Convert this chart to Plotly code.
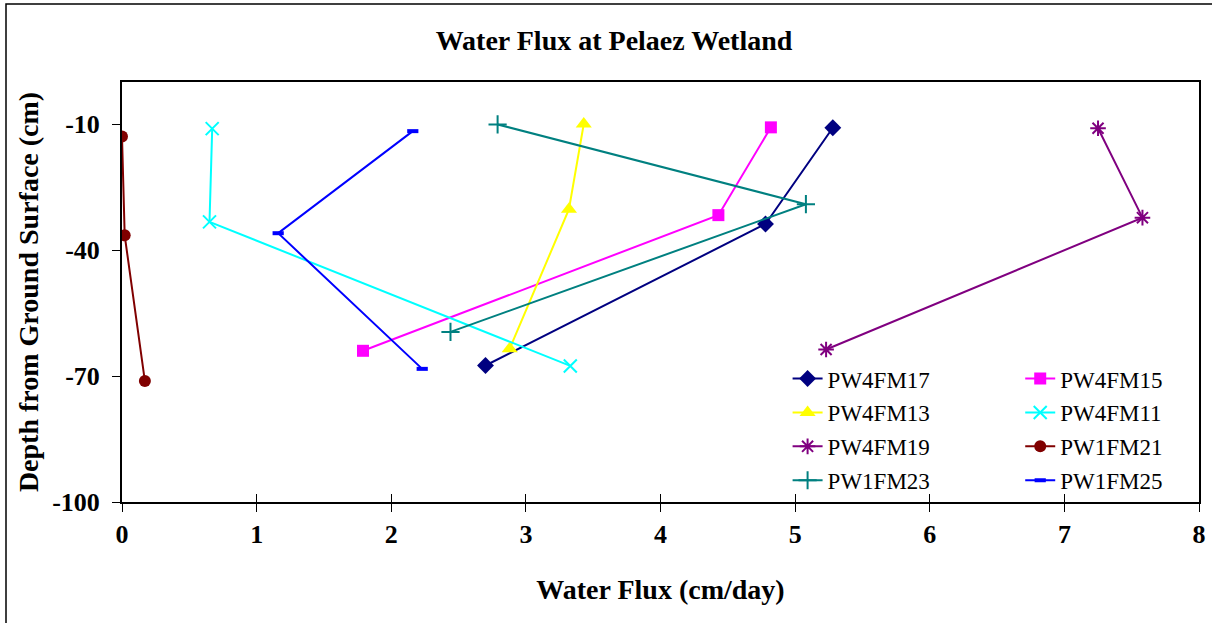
import plotly.graph_objects as go

# Data (x = water flux cm/day, y = depth cm)
names = ["PW4FM17", "PW4FM15", "PW4FM13", "PW4FM11",
         "PW4FM19", "PW1FM21", "PW1FM23", "PW1FM25"]
flux_PW4FM17 = [5.28, 4.78, 2.70]
depth_PW4FM17 = [-10.9, -33.8, -67.5]
flux_PW4FM15 = [4.82, 4.43, 1.79]
depth_PW4FM15 = [-10.8, -31.7, -64.0]
flux_PW4FM13 = [3.43, 3.32, 2.88]
depth_PW4FM13 = [-10.0, -30.3, -63.5]
flux_PW4FM11 = [0.67, 0.65, 3.33]
depth_PW4FM11 = [-11.1, -33.3, -67.6]
flux_PW4FM19 = [7.25, 7.58, 5.23]
depth_PW4FM19 = [-11.0, -32.3, -63.7]
flux_PW1FM21 = [0.0, 0.02, 0.17]
depth_PW1FM21 = [-13.0, -36.5, -71.2]
flux_PW1FM23 = [2.79, 5.08, 2.44]
depth_PW1FM23 = [-10.1, -29.1, -59.5]
flux_PW1FM25 = [2.16, 1.16, 2.23]
depth_PW1FM25 = [-11.7, -36.0, -68.3]

x_ticks = [0, 1, 2, 3, 4, 5, 6, 7, 8]
y_ticks = [-100, -70, -40, -10]

series = [
    (flux_PW4FM17, depth_PW4FM17),
    (flux_PW4FM15, depth_PW4FM15),
    (flux_PW4FM13, depth_PW4FM13),
    (flux_PW4FM11, depth_PW4FM11),
    (flux_PW4FM19, depth_PW4FM19),
    (flux_PW1FM21, depth_PW1FM21),
    (flux_PW1FM23, depth_PW1FM23),
    (flux_PW1FM25, depth_PW1FM25),
]
colors = ["#000080", "#FF00FF", "#FFFF00", "#00FFFF",
          "#800080", "#800000", "#008080", "#0000FF"]
symbols = ["diamond", "square", "triangle-up", "x-thin-open",
           "asterisk-open", "circle", "cross-thin-open", "line-ew-open"]
sizes = [13, 12, 14, 13, 13, 12, 13, 8]
mlw = [0, 0, 0, 2, 2, 0, 2, 4]
legends = ["legend", "legend2", "legend", "legend2",
           "legend", "legend2", "legend", "legend2"]

FONT = "Liberation Serif, Times New Roman, serif"

fig = go.Figure()
for i, (name, (xs, ys)) in enumerate(zip(names, series)):
    fig.add_trace(go.Scatter(
        x=xs, y=ys, name=name, mode="lines+markers",
        line=dict(color=colors[i], width=2),
        marker=dict(symbol=symbols[i], size=sizes[i], color=colors[i],
                    line=dict(color=colors[i], width=mlw[i])),
        legend=legends[i], legendgroup=name,
    ))

# empty trace so the companion axis (inner tick halves) is rendered
fig.add_trace(go.Scatter(x=[], y=[], xaxis="x2", yaxis="y",
                         showlegend=False, hoverinfo="skip"))

legend_common = dict(
    font=dict(family=FONT, size=23, color="black"),
    bgcolor="rgba(255,255,255,0)", borderwidth=0,
    xanchor="left", yanchor="top", tracegroupgap=1,
    orientation="v",
)

fig.update_layout(
    width=1212, height=623,
    margin=dict(l=122, r=13, t=82, b=121, autoexpand=False),
    paper_bgcolor="white", plot_bgcolor="white",
    font=dict(family=FONT, color="black"),
    title=dict(text="<b>Water Flux at Pelaez Wetland</b>",
               x=0.5066, xref="container", xanchor="center",
               y=1 - 40 / 623, yref="container", yanchor="middle",
               font=dict(family=FONT, size=28, color="black")),
    xaxis=dict(range=[0, 8], tickvals=x_ticks,
               ticktext=[f"<b>{v}</b>" for v in x_ticks],
               showgrid=False, zeroline=False, automargin=False,
               showline=True, linecolor="black", linewidth=2, mirror=True,
               ticks="outside", ticklen=8, tickcolor="black", tickwidth=1,
               ticklabelstandoff=0,
               tickfont=dict(family=FONT, size=26, color="black"),
               title=dict(text="<b>Water Flux (cm/day)</b>", standoff=31,
                          font=dict(family=FONT, size=28, color="black"))),
    # companion axis to draw the inner half of the crossing x ticks
    xaxis2=dict(range=[0, 8], tickvals=x_ticks, overlaying="x", side="bottom",
                anchor="y", showticklabels=False, showgrid=False, zeroline=False,
                showline=False, automargin=False,
                ticks="inside", ticklen=8, tickcolor="black", tickwidth=1),
    yaxis=dict(range=[-100, 0], tickvals=y_ticks,
               ticktext=[f"<b>{v}</b>" for v in y_ticks],
               showgrid=False, zeroline=False, automargin=False,
               showline=True, linecolor="black", linewidth=2, mirror=True,
               ticks="outside", ticklen=8, tickcolor="black", tickwidth=1,
               ticklabelstandoff=7,
               tickfont=dict(family=FONT, size=26, color="black"),
               title=dict(text="<b>Depth from Ground Surface (cm)</b>", standoff=5,
                          font=dict(family=FONT, size=28, color="black"))),
    legend=dict(x=0.618, y=0.345, **legend_common),
    legend2=dict(x=0.834, y=0.345, **legend_common),
    showlegend=True,
)

# Outer chart frame (top and left edges visible as in reference)
fig.add_shape(type="rect", xref="paper", yref="paper",
              x0=(6 - 122) / 1077, x1=(1225 - 122) / 1077,
              y0=(502 - 640) / 420, y1=(502 - 4) / 420,
              line=dict(color="black", width=1.5), fillcolor="rgba(0,0,0,0)",
              layer="below")

fig.write_html("out.html", config={"displayModeBar": False},
               post_script="document.body.style.margin='0';")
